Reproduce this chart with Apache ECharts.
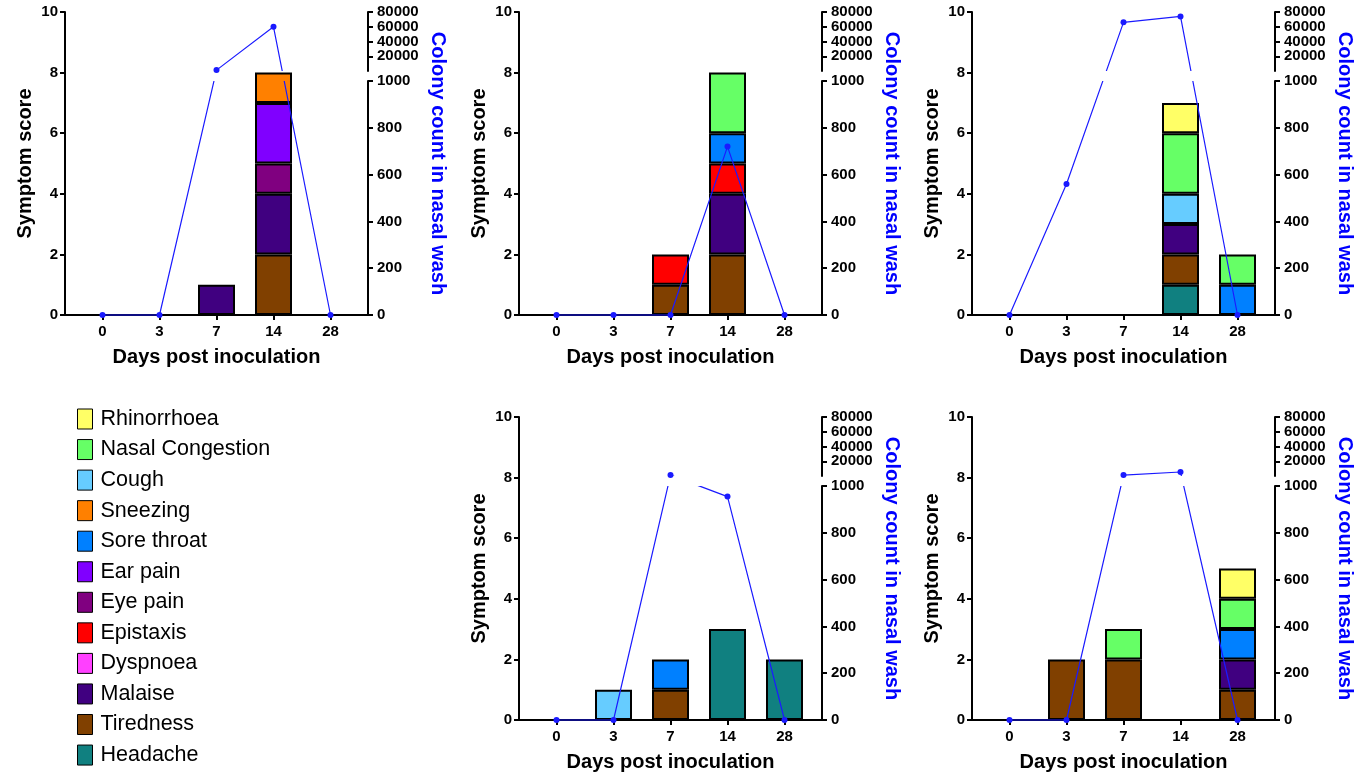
<!DOCTYPE html>
<html>
<head>
<meta charset="utf-8">
<title>Symptom score and colony count</title>
<script src="https://cdn.jsdelivr.net/npm/echarts@6/dist/echarts.min.js"></script>
<style>
  html, body { margin: 0; padding: 0; background: #fff; }
  #chart { width: 1356px; height: 774px; }
</style>
</head>
<body>
<div id="chart"></div>
<script>
// 横轴:接种后天数
const days = ['0', '3', '7', '14', '28']

// 症状(堆叠顺序:自下而上)
const symptoms = ['Headache', 'Tiredness', 'Malaise', 'Dyspnoea', 'Epistaxis', 'Eye pain',
  'Ear pain', 'Sore throat', 'Sneezing', 'Cough', 'Nasal Congestion', 'Rhinorrhoea']
const symptomColors = ['#108080', '#804000', '#400080', '#ff40ff', '#ff0000', '#800080',
  '#8000ff', '#0080ff', '#ff8000', '#66ccff', '#66ff66', '#ffff66']

// 图例顺序(自上而下)
const legendOrder = symptoms.slice().reverse()

// 右轴刻度
const lowerTicks = [0, 200, 400, 600, 800, 1000]
const upperTicks = [20000, 40000, 60000, 80000]

// 各面板症状得分
const scoresA = { 'Tiredness': [0, 0, 0, 2, 0], 'Malaise': [0, 0, 1, 2, 0], 'Eye pain': [0, 0, 0, 1, 0], 'Ear pain': [0, 0, 0, 2, 0], 'Sneezing': [0, 0, 0, 1, 0] }
const scoresB = { 'Tiredness': [0, 0, 1, 2, 0], 'Malaise': [0, 0, 0, 2, 0], 'Epistaxis': [0, 0, 1, 1, 0], 'Sore throat': [0, 0, 0, 1, 0], 'Nasal Congestion': [0, 0, 0, 2, 0] }
const scoresC = { 'Headache': [0, 0, 0, 1, 0], 'Tiredness': [0, 0, 0, 1, 0], 'Malaise': [0, 0, 0, 1, 0], 'Sore throat': [0, 0, 0, 0, 1], 'Cough': [0, 0, 0, 1, 0], 'Nasal Congestion': [0, 0, 0, 2, 1], 'Rhinorrhoea': [0, 0, 0, 1, 0] }
const scoresD = { 'Headache': [0, 0, 0, 3, 2], 'Tiredness': [0, 0, 1, 0, 0], 'Sore throat': [0, 0, 1, 0, 0], 'Cough': [0, 1, 0, 0, 0] }
const scoresE = { 'Tiredness': [0, 2, 2, 0, 1], 'Malaise': [0, 0, 0, 0, 1], 'Sore throat': [0, 0, 0, 0, 1], 'Nasal Congestion': [0, 0, 1, 0, 1], 'Rhinorrhoea': [0, 0, 0, 0, 1] }

// 各面板鼻腔冲洗液菌落计数
const colonyA = [0, 0, 1300, 60000, 0]
const colonyB = [0, 0, 0, 720, 0]
const colonyC = [0, 560, 66000, 74000, 0]
const colonyD = [0, 0, 1300, 955, 0]
const colonyE = [0, 0, 1300, 5500, 0]

const panelScores = [scoresA, scoresB, scoresC, scoresD, scoresE]
const panelColony = [colonyA, colonyB, colonyC, colonyD, colonyE]

// 面板位置(像素)
const panelPos = [
  { left: 65, top: 12 },
  { left: 519, top: 12 },
  { left: 972, top: 12 },
  { left: 519, top: 417 },
  { left: 972, top: 417 },
]

const W = 303
const H = 303
const PAD = 9 // 类目轴两端留白
const LOWER_FRAC = 0.772 // 0-1000 段占高度比例
const UPPER_START = 0.805 // 断轴上段起点
const FONT = '"Liberation Sans", Arial, sans-serif'
const LINE_BLUE = '#1a1aff'

// 断轴映射:菌落数 -> 0~1 高度比例
function colonyPos (v) {
  if (v <= 1000) return v / 1000 * LOWER_FRAC
  return UPPER_START + v / 80000 * (1 - UPPER_START)
}

const axisLineStyle = { show: true, onZero: false, lineStyle: { color: '#000', width: 2 } }
const tickStyle = { show: true, length: 5, lineStyle: { color: '#000', width: 2 } }
const labelStyle = { color: '#000', fontFamily: FONT, fontWeight: 'bold', fontSize: 15 }
const titleStyle = { color: '#000', fontFamily: FONT, fontWeight: 'bold', fontSize: 20 }

const grid = []
const xAxis = []
const yAxis = []
const series = []
const lineIdx = []

panelPos.forEach((p, i) => {
  const g = i * 3
  const y = i * 4

  // 主网格 / 右轴下段 / 右轴上段
  grid.push({ left: p.left + PAD, top: p.top, width: W - 2 * PAD, height: H })
  grid.push({ left: p.left, top: p.top + H * (1 - LOWER_FRAC), width: W, height: H * LOWER_FRAC })
  grid.push({ left: p.left, top: p.top, width: W, height: H * (1 - UPPER_START) })

  xAxis.push({
    type: 'category', gridIndex: g, data: days,
    axisLine: axisLineStyle,
    axisTick: Object.assign({ alignWithLabel: true }, tickStyle),
    axisLabel: Object.assign({ margin: 9 }, labelStyle),
    name: 'Days post inoculation', nameLocation: 'middle', nameGap: 32,
    nameTextStyle: titleStyle,
  })
  xAxis.push({
    type: 'value', gridIndex: g + 1, min: 0, max: 1,
    axisLine: axisLineStyle, axisTick: { show: false }, axisLabel: { show: false }, splitLine: { show: false },
  })
  xAxis.push({ type: 'value', gridIndex: g + 2, min: 0, max: 1, show: false })

  yAxis.push({
    type: 'value', gridIndex: g, position: 'left', offset: PAD, min: 0, max: 10, interval: 2,
    axisLine: axisLineStyle, axisTick: tickStyle,
    axisLabel: Object.assign({ margin: 7 }, labelStyle),
    splitLine: { show: false },
    name: 'Symptom score', nameLocation: 'middle', nameGap: 30, nameRotate: 90,
    nameTextStyle: titleStyle,
  })
  // 折线用隐藏轴(断轴位置)
  yAxis.push({
    type: 'value', gridIndex: g, position: 'right', offset: PAD, min: 0, max: 1,
    axisLine: { show: false }, axisTick: { show: false }, axisLabel: { show: false }, splitLine: { show: false },
    name: 'Colony count in nasal wash', nameLocation: 'middle', nameGap: 60, nameRotate: -90,
    nameTextStyle: Object.assign({}, titleStyle, { color: '#0000ff' }),
  })
  yAxis.push({
    type: 'value', gridIndex: g + 1, position: 'right', min: lowerTicks[0], max: lowerTicks[lowerTicks.length - 1], interval: 200,
    axisLine: axisLineStyle, axisTick: tickStyle,
    axisLabel: Object.assign({ margin: 9, showMaxLabel: true, formatter: v => String(v) }, labelStyle),
    splitLine: { show: false },
  })
  // 上段:max 略大于 80000,避免最大标签重叠检测隐藏 60000
  yAxis.push({
    type: 'value', gridIndex: g + 2, position: 'right', min: 0, max: upperTicks[upperTicks.length - 1] + 1, interval: 20000,
    axisLine: axisLineStyle, axisTick: tickStyle,
    axisLabel: Object.assign({ margin: 9, showMaxLabel: false, showMinLabel: false, hideOverlap: false,
      formatter: v => (upperTicks.indexOf(v) >= 0 ? String(v) : '') }, labelStyle),
    splitLine: { show: false },
  })

  // 堆叠柱
  const scores = panelScores[i]
  symptoms.forEach((name, k) => {
    const vals = scores[name] || [0, 0, 0, 0, 0]
    series.push({
      type: 'bar', name, stack: 'p' + i, xAxisIndex: g, yAxisIndex: y,
      barWidth: 37, z: 2,
      data: vals.map(v => (v > 0 ? v : '-')),
      itemStyle: { color: symptomColors[k], borderColor: '#000', borderWidth: 2 },
    })
  })

  // 菌落计数折线(颜色由 visualMap 给出)
  lineIdx.push(series.length)
  series.push({
    type: 'line', name: 'colony' + i, xAxisIndex: g, yAxisIndex: y + 1,
    data: panelColony[i].map(colonyPos),
    symbol: 'circle', symbolSize: 6, clip: false, z: 5,
    lineStyle: { width: 1.2 },
  })
})

const option = {
  animation: false,
  backgroundColor: '#fff',
  grid,
  xAxis,
  yAxis,
  series,
  legend: {
    data: legendOrder,
    orient: 'vertical', left: 77, top: 408, height: 380, padding: 0,
    itemWidth: 15, itemHeight: 20, itemGap: 8.55,
    icon: 'rect', selectedMode: false,
    itemStyle: { borderColor: '#000', borderWidth: 1 },
    textStyle: { color: '#000', fontFamily: FONT, fontSize: 21.5, lineHeight: 21, padding: [0, 0, 0, 3] },
  },
  // 断轴区域内折线留空
  visualMap: {
    type: 'piecewise', show: false, seriesIndex: lineIdx, dimension: 1,
    pieces: [
      { lt: LOWER_FRAC, color: LINE_BLUE },
      { gte: LOWER_FRAC, lte: UPPER_START, color: 'rgba(0,0,255,0)' },
      { gt: UPPER_START, color: LINE_BLUE },
    ],
  },
}

const chart = echarts.init(document.getElementById('chart'))
chart.setOption(option)
</script>
</body>
</html>
